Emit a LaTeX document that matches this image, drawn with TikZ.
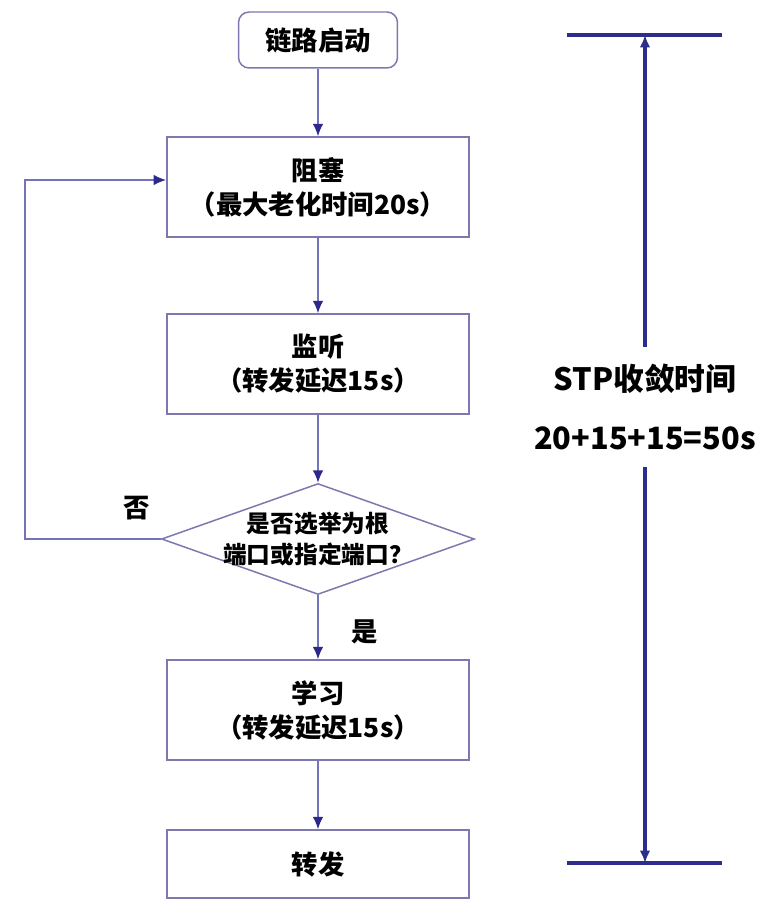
\documentclass[tikz,border=0pt]{standalone}
\usepackage{fontspec}
\setmainfont{Noto Sans CJK SC}
\usepackage{xcolor}
\usepackage{tikz}
\usetikzlibrary{arrows.meta,positioning,calc,shapes.geometric}
\definecolor{boxline}{RGB}{125,120,175}
\definecolor{flowline}{RGB}{115,115,185}
\definecolor{tipblue}{RGB}{45,40,140}
\definecolor{barblue}{RGB}{45,45,140}

\begin{document}
\begin{tikzpicture}[
    x=0.02cm, y=-0.02cm,
    startbox/.style={draw=boxline, line width=0.85pt, rounded corners=6pt, minimum width=3.18cm, minimum height=1.12cm, font=\fontsize{15}{19}\selectfont\bfseries},
    stagebox/.style={draw=boxline, line width=0.85pt, minimum width=6.05cm, minimum height=2cm, align=center, font=\fontsize{15}{19.3}\selectfont\bfseries},
    decision/.style={draw=boxline, line width=0.85pt, diamond, minimum width=6.26cm, minimum height=2.22cm, inner sep=0pt},
    flow/.style={-{Latex[length=7pt, width=6pt, color=tipblue]}, draw=flowline, line width=0.9pt},
    span/.style={{Latex[length=7pt, width=6pt]}-, draw=barblue, line width=1.8pt},
    bar/.style={draw=barblue, line width=2.2pt},
    tag/.style={font=\fontsize{15}{18}\selectfont\bfseries}
]
\useasboundingbox (0,0) rectangle (778,918);
% flow chart
\node[startbox] (start)  at (318,40)  {链路启动};
\node[stagebox] (block)  at (318,187) {阻塞\\（最大老化时间20s）};
\node[stagebox] (listen) at (318,364) {监听\\（转发延迟15s）};
\node[decision] (dec)    at (318,539)
    [label={[font=\fontsize{13.5}{17.5}\selectfont\bfseries, align=center]center:{是否选举为根\\端口或指定端口？}}] {};
\node[stagebox] (learn)  at (318,710) {学习\\（转发延迟15s）};
\node[stagebox, minimum height=1.36cm] (fwd) at (318,864) {转发};
\draw[flow] (start) -- (block);
\draw[flow] (block) -- (listen);
\draw[flow] (listen) -- (dec);
\draw[flow] (dec) -- (learn);
\draw[flow] (learn) -- (fwd);
\coordinate (loop) at (25,180);
\draw[flow] (dec.west) -| (loop) -- (block.west |- loop);
\node[tag] (no)  at (137,508) {否};
\node[tag] (yes) at (365,632) {是};
% convergence time
\coordinate (bartop) at (645,35);
\coordinate (barbot) at (645,863);
\draw[bar] ($(bartop)+(-78,0)$) -- ($(bartop)+(77,0)$);
\draw[bar] ($(barbot)+(-78,0)$) -- ($(barbot)+(77,0)$);
\node[align=center, minimum height=2.4cm, font=\fontsize{17.5}{33.5}\selectfont\bfseries] (stp) at (645,407) {STP收敛时间\\20+15+15=50s};
\draw[span] (bartop) -- (stp.north);
\draw[span] (barbot) -- (stp.south);
\end{tikzpicture}
\end{document}
